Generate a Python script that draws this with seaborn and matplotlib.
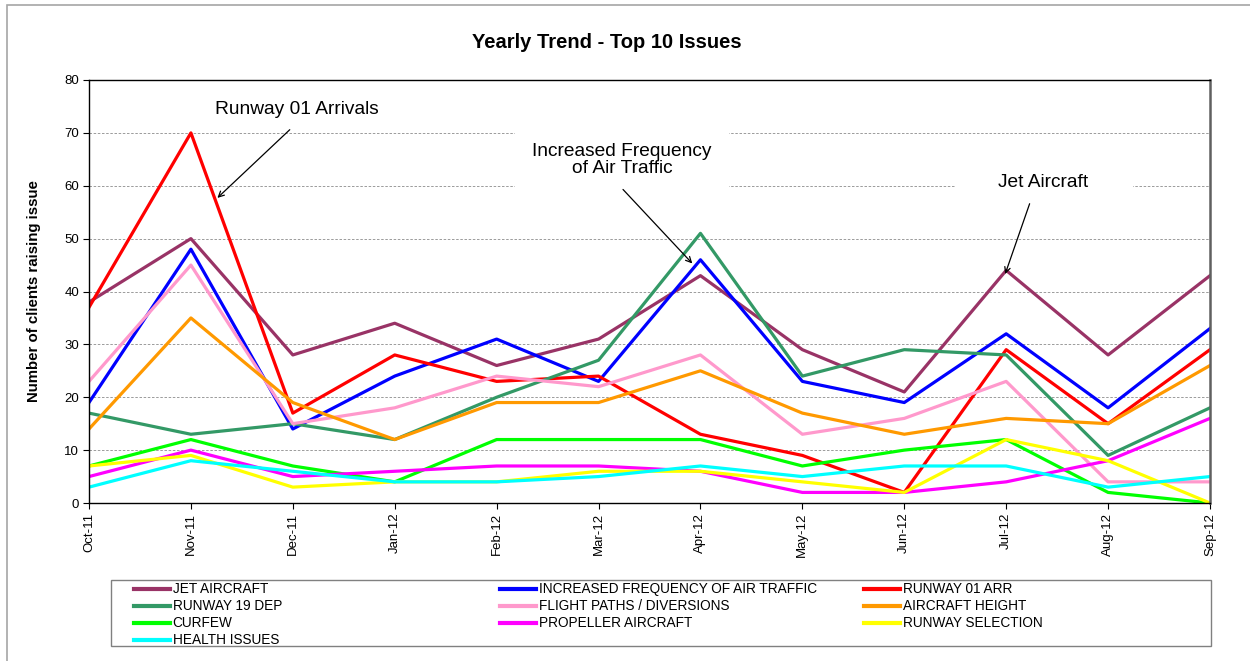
import numpy as np
import pandas as pd
import matplotlib
matplotlib.use('Agg')
import matplotlib.pyplot as plt
from matplotlib.lines import Line2D
from matplotlib.patches import Rectangle
import seaborn as sns

# Monthly counts
months = ['Oct-11', 'Nov-11', 'Dec-11', 'Jan-12', 'Feb-12', 'Mar-12',
          'Apr-12', 'May-12', 'Jun-12', 'Jul-12', 'Aug-12', 'Sep-12']

jet_aircraft = [38, 50, 28, 34, 26, 31, 43, 29, 21, 44, 28, 43]
increased_freq = [19, 48, 14, 24, 31, 23, 46, 23, 19, 32, 18, 33]
runway_01_arr = [37, 70, 17, 28, 23, 24, 13, 9, 2, 29, 15, 29]
runway_19_dep = [17, 13, 15, 12, 20, 27, 51, 24, 29, 28, 9, 18]
flight_paths = [23, 45, 15, 18, 24, 22, 28, 13, 16, 23, 4, 4]
aircraft_height = [14, 35, 19, 12, 19, 19, 25, 17, 13, 16, 15, 26]
curfew = [7, 12, 7, 4, 12, 12, 12, 7, 10, 12, 2, 0]
propeller = [5, 10, 5, 6, 7, 7, 6, 2, 2, 4, 8, 16]
runway_selection = [7, 9, 3, 4, 4, 6, 6, 4, 2, 12, 8, 0]
health_issues = [3, 8, 6, 4, 4, 5, 7, 5, 7, 7, 3, 5]

series_names = ['JET AIRCRAFT', 'INCREASED FREQUENCY OF AIR TRAFFIC', 'RUNWAY 01 ARR',
                'RUNWAY 19 DEP', 'FLIGHT PATHS / DIVERSIONS', 'AIRCRAFT HEIGHT',
                'CURFEW', 'PROPELLER AIRCRAFT', 'RUNWAY SELECTION', 'HEALTH ISSUES']
series_values = [jet_aircraft, increased_freq, runway_01_arr, runway_19_dep, flight_paths,
                 aircraft_height, curfew, propeller, runway_selection, health_issues]
colors = ['#993366', '#0000FF', '#FF0000', '#339966', '#FF99CC',
          '#FF9900', '#00FF00', '#FF00FF', '#FFFF00', '#00FFFF']

# Long-form table for seaborn
df = pd.DataFrame({name: vals for name, vals in zip(series_names, series_values)})
df['pos'] = np.arange(len(months))
df = df.melt(id_vars='pos', var_name='issue', value_name='count')

plt.rcParams['font.family'] = ['Liberation Sans', 'DejaVu Sans']

fig = plt.figure(figsize=(12.5, 6.61), dpi=100)
W, H = 1250, 661
ax = fig.add_axes([89 / W, (H - 503) / H, (1210 - 89) / W, (503 - 80) / H])

sns.lineplot(data=df, x='pos', y='count', hue='issue', hue_order=series_names,
             palette=colors, linewidth=2.3, sort=False, legend=True, ax=ax)
handles, labels = ax.get_legend_handles_labels()
ax.get_legend().remove()

ax.set_xlim(0, len(months) - 1)
ax.set_ylim(0, 80)
ax.set_xticks(np.arange(len(months)))
ax.set_xticklabels(months, rotation=90, fontsize=9.5)
ax.set_yticks(np.arange(0, 81, 10))
ax.tick_params(axis='y', labelsize=9.5, direction='out', length=4, width=0.8, pad=3)
ax.tick_params(axis='x', direction='out', length=4, width=0.8, pad=3)
ax.set_xlabel('')
ax.set_ylabel('Number of clients raising issue', fontsize=10.8, fontweight='bold')
ax.yaxis.set_label_coords(-0.043, 0.5)

ax.set_axisbelow(True)
ax.yaxis.grid(True, color='#8c8c8c', linestyle=(0, (3, 2)), linewidth=0.6)
ax.xaxis.grid(False)
for side in ['left', 'bottom', 'top']:
    ax.spines[side].set_color('black')
    ax.spines[side].set_linewidth(1)
ax.spines['right'].set_color('#606060')
ax.spines['right'].set_linewidth(1.8)

# Annotation text boxes (white, covering the gridlines)
ax.add_patch(Rectangle((4.18, 58.3), 2.1, 14.1, facecolor='white', edgecolor='none', zorder=1))
ax.add_patch(Rectangle((8.50, 57.3), 1.74, 6.6, facecolor='white', edgecolor='none', zorder=1))

arrow = dict(arrowstyle='->', lw=0.9, color='black', shrinkA=0, shrinkB=0)
ax.text(2.04, 74.4, 'Runway 01 Arrivals', ha='center', va='center', fontsize=13.8)
ax.annotate('', xy=(1.26, 57.7), xytext=(1.97, 70.6), arrowprops=arrow)
ax.text(5.23, 64.9, 'Increased Frequency\nof Air Traffic', ha='center', va='center',
        fontsize=13.8, linespacing=1.05)
ax.annotate('', xy=(5.92, 45.3), xytext=(5.24, 59.3), arrowprops=arrow)
ax.text(9.36, 60.6, 'Jet Aircraft', ha='center', va='center', fontsize=13.8)
ax.annotate('', xy=(8.99, 43.3), xytext=(9.23, 56.6), arrowprops=arrow)

fig.text(607 / W, 1 - 43 / H, 'Yearly Trend - Top 10 Issues', ha='center', va='center',
         fontsize=14.5, fontweight='bold')

# Outer chart border
fig.patches.append(Rectangle((7 / W, -0.05), 1.1, 1 - 5 / H + 0.05, transform=fig.transFigure,
                             facecolor='none', edgecolor='#a6a6a6', linewidth=1.2))

# Legend frame and three columns (row-major order as in the reference)
fig.patches.append(Rectangle((111 / W, (H - 646) / H), 1100 / W, 66 / H, transform=fig.transFigure,
                             facecolor='white', edgecolor='#808080', linewidth=1.0))
handle_map = {lab: h for h, lab in zip(handles, labels)}
col_x = [131, 497, 861]
for c in range(3):
    labs = series_names[c::3]
    hs = [Line2D([0], [0], color=handle_map[l].get_color(), linewidth=3.0) for l in labs]
    fig.legend(hs, labs, loc='upper left', bbox_to_anchor=(col_x[c] / W, 1 - 579 / H),
               frameon=False, borderpad=0.25, borderaxespad=0, handlelength=2.65,
               handletextpad=0.15, labelspacing=0.22, fontsize=9.8)

fig.savefig('out.png', dpi=100)
